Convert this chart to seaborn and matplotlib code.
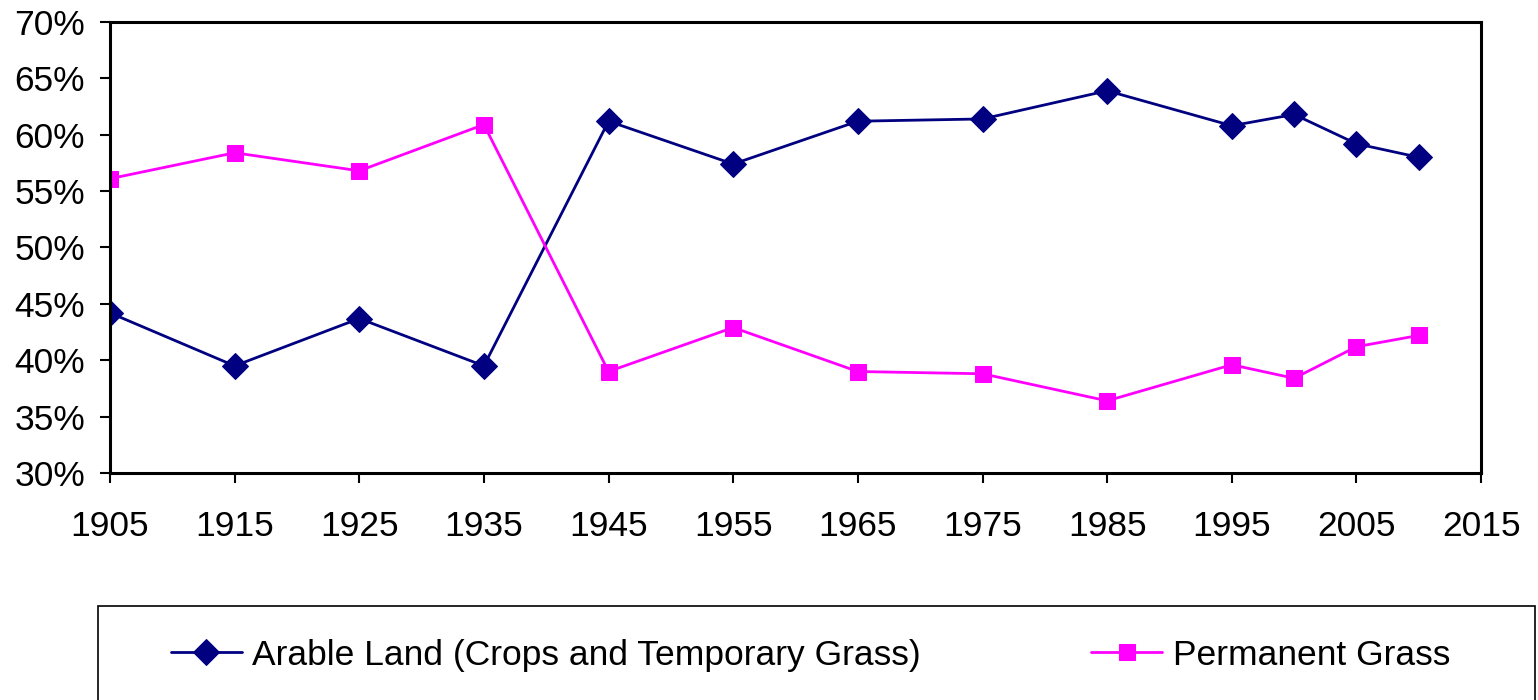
import seaborn as sns
import matplotlib.pyplot as plt
import pandas as pd
from matplotlib.ticker import PercentFormatter
from matplotlib.patches import Rectangle

years = [1905, 1915, 1925, 1935, 1945, 1955, 1965, 1975, 1985, 1995, 2000, 2005, 2010]
arable = [44.2, 39.5, 43.7, 39.5, 61.2, 57.4, 61.2, 61.4, 63.9, 60.8, 61.8, 59.2, 58.0]
permanent = [56.1, 58.4, 56.8, 60.9, 39.0, 42.9, 39.0, 38.8, 36.4, 39.6, 38.4, 41.2, 42.2]
xticks = list(range(1905, 2016, 10))

df = pd.DataFrame({"year": years, "arable": arable, "permanent": permanent})

sns.set_style("white")
plt.rcParams['font.family'] = ['Liberation Sans', 'DejaVu Sans']

fig = plt.figure(figsize=(15.38, 7), dpi=100)
ax = fig.add_axes([0.0715, 0.3243, 0.8915, 0.6443])

sns.lineplot(data=df, x="year", y="arable", ax=ax, color="#000080", marker="D",
             markersize=13, markeredgecolor="#000080", linewidth=2,
             label="Arable Land (Crops and Temporary Grass)")
sns.lineplot(data=df, x="year", y="permanent", ax=ax, color="#FF00FF", marker="s",
             markersize=11, markeredgecolor="#FF00FF", linewidth=2,
             label="Permanent Grass")

ax.set_xlim(1905, 2015)
ax.set_ylim(30, 70)
ax.set_xticks(xticks)
ax.set_yticks(range(30, 71, 5))
ax.yaxis.set_major_formatter(PercentFormatter(decimals=0))
ax.set_xlabel("")
ax.set_ylabel("")
for s in ax.spines.values():
    s.set_color("black")
    s.set_linewidth(2.2)
ax.tick_params(axis="both", labelsize=25.5, colors="black", length=7, width=1.5,
               direction="out", bottom=True, left=True)
ax.tick_params(axis="x", pad=20)
ax.tick_params(axis="y", pad=11)

ax.get_legend().remove()
fig.patches.append(Rectangle((98 / 1538, -0.01), 1437 / 1538, 0.144, transform=fig.transFigure,
                             fill=False, edgecolor="black", linewidth=1.2))
h, l = ax.get_legend_handles_labels()
fig.legend(h, l, loc="center", bbox_to_anchor=(0.527, 0.064), ncol=2, frameon=False,
           fontsize=25.5, labelcolor="black", handlelength=2.0, handletextpad=0.3,
           columnspacing=4.8)

fig.savefig("out.png", dpi=100)
